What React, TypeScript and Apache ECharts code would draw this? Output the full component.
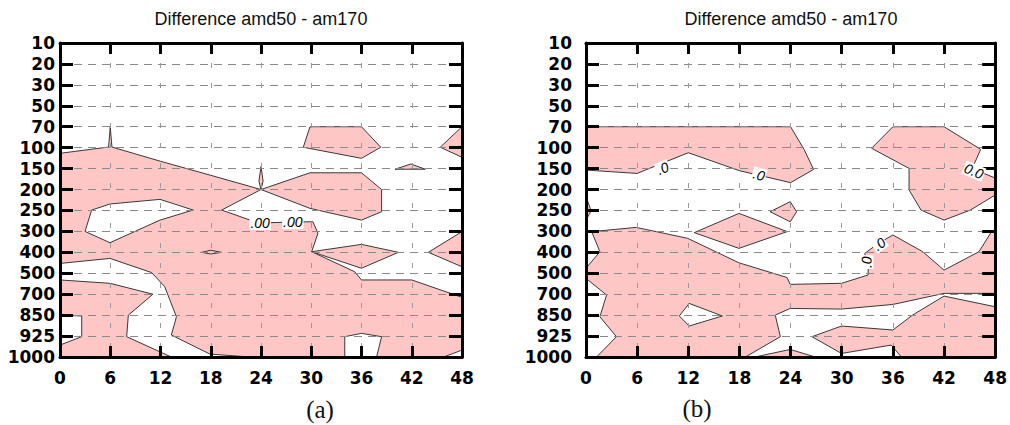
import React, { useEffect, useRef } from "react";
import * as echarts from "echarts";

// Pressure levels (top to bottom), shown on the vertical axis
const LEVELS = ["10", "20", "30", "50", "70", "100", "150", "200", "250", "300", "400", "500", "700", "850", "925", "1000"];
const TITLE = "Difference amd50 - am170";

// Contour regions, points are [forecast hour, level index]
// ---- panel (a)
const A_MAIN = [[0,5.27],[5.8,4.97],[6,4.0],[6.2,4.97],[12,5.65],[18,6.32],[24,7.0],[19.3,7.98],[22.7,8.46],[23.9,8.6],[27.8,8.55],[30.2,8.54],[30.8,9.09],[30.05,9.97],[35.2,10.93],[36,11.32],[42,11.32],[48,12.15],[48,14.67],[45.8,15],[37.8,15],[38.4,14.03],[36,13.87],[34,14.03],[34,15],[22.7,15],[17.9,14.86],[13.3,13.95],[13.9,13.08],[12.5,11.64],[10.95,10.97],[5.97,10.29],[0,10.53]];
const A_LOWLEFT = [[0,11.32],[5.97,11.48],[11.1,12.0],[8.16,13.0],[7.96,14.03],[13.3,15],[0,15],[0,14.43],[2.59,14.03],[2.59,13.04],[0,13.0]];
const A_HOLE = [[3.78,7.98],[5.97,7.69],[11.94,7.47],[15.9,7.98],[11.94,8.46],[5.97,9.54],[2.99,9.0]];
const A_WING = [[24,7.0],[29.85,6.2],[36,6.2],[38.4,7.0],[38.4,8.06],[36,8.46],[29.85,7.9]];
const A_SPIKE24 = [[23.75,6.6],[24,5.9],[24.25,6.6],[24,7.0]];
const A_LENS18 = [[16.9,10.0],[18,9.9],[19.3,10.0],[18,10.08]];
const A_DIAMOND = [[30.05,9.97],[36,9.62],[40.4,10.0],[36,10.76]];
const A_EDGE400 = [[43.98,10.0],[48,9.01],[48,10.69]];
const A_TOP30 = [[29.85,4.0],[36,4.0],[38.3,4.98],[36,5.51],[29.05,4.98]];
const A_EDGE100 = [[48,4.0],[45.4,4.98],[48,5.46]];
const A_SLIVER150 = [[40,6.03],[41.9,5.78],[43.6,6.03]];
const A_LABEL_POS = [[23.9,8.6],[27.8,8.56]];
const A_LABEL_TEXT = [".00", ".00"];
const A_LABEL_ROT = [0, 0];

// ---- panel (b)
const B_TOP = [[0,4],[24,4],[25.6,5.1],[26.7,6.04],[24,6.67],[18,6.1],[12,5.24],[6,6.23],[0,6.07]];
const B_RIGHT = [[33.5,5.03],[36,4.0],[42,4.0],[46.3,5.08],[45.3,6.0],[48,6.45],[48,7.26],[45.1,7.98],[42,8.46],[39.3,7.98],[37.9,7.02],[37.9,5.99]];
const B_EDGE250 = [[0,7.34],[0.6,8.02],[0,8.46]];
const B_DIAMOND18 = [[12.7,9.06],[17.94,8.14],[23.6,9.01],[17.94,9.81]];
const B_SMALL24 = [[21.6,8.06],[23.96,7.58],[24.7,8.06],[23.96,8.54]];
const B_MID = [[0.66,9.01],[5.9,8.81],[11.92,9.33],[17.94,10.5],[23.57,11.2],[23.96,11.53],[29.98,11.48],[33.1,11.08],[33.1,10.76],[32.7,10.05],[34.3,9.57],[36,9.17],[39.5,9.97],[42,10.85],[46.1,9.97],[47.45,9.09],[48,8.93],[48,11.96],[42,11.96],[36,12.49],[29.98,12.71],[23.96,12.68],[22.2,13.0],[22.8,14.03],[18.7,15],[1.24,15],[3.57,14.03],[1.63,13.08],[2.41,12.04],[0,11.24],[0,10.76],[1.63,9.97]];
const B_HOLE850 = [[10.95,13.04],[12.1,12.44],[16.0,13.04],[12.1,13.52]];
const B_LOWRIGHT = [[26.5,14.03],[29.98,13.52],[36,13.71],[38.3,13.0],[42,12.09],[48,12.6],[48,15],[37,15],[35.8,14.43],[29.98,14.83]];
const B_BOTTOM24 = [[19.8,15],[23.96,14.64],[26.9,15]];
const B_LABEL_POS = [[9.0,5.99],[20.3,6.3],[45.5,6.12],[32.9,10.47],[34.4,9.6]];
const B_LABEL_TEXT = [".0", ".0", "0.0", ".0", ".0"];
const B_LABEL_ROT = [0.38, -0.28, -0.39, 1.57, 0.64];

const PINK = "#FFC6C6";
const WHITE = "#FFFFFF";
const LINE = "#383838";

const SHAPES_A = [
  { pts: A_MAIN, fill: PINK },
  { pts: A_LOWLEFT, fill: PINK },
  { pts: A_HOLE, fill: WHITE },
  { pts: A_WING, fill: PINK },
  { pts: A_SPIKE24, fill: PINK },
  { pts: A_LENS18, fill: PINK },
  { pts: A_DIAMOND, fill: PINK },
  { pts: A_EDGE400, fill: PINK },
  { pts: A_TOP30, fill: PINK },
  { pts: A_EDGE100, fill: PINK },
  { pts: A_SLIVER150, fill: PINK },
];
const SHAPES_B = [
  { pts: B_TOP, fill: PINK },
  { pts: B_RIGHT, fill: PINK },
  { pts: B_EDGE250, fill: PINK },
  { pts: B_DIAMOND18, fill: PINK },
  { pts: B_SMALL24, fill: PINK },
  { pts: B_MID, fill: PINK },
  { pts: B_HOLE850, fill: WHITE },
  { pts: B_LOWRIGHT, fill: PINK },
  { pts: B_BOTTOM24, fill: PINK },
];

const TICK_FONT = { color: "#000", fontSize: 17, fontFamily: "DejaVu Sans", fontWeight: "bold" as const };

function shapeSeries(panel: number, shapes: { pts: number[][]; fill: string }[]) {
  return {
    type: "custom",
    xAxisIndex: panel * 2,
    yAxisIndex: panel * 2,
    z: 1,
    clip: true,
    silent: true,
    data: shapes.map((s) => [s.pts[0][0], s.pts[0][1]]),
    encode: { x: 0, y: 1 },
    renderItem: (params: any, api: any) => {
      const s = shapes[params.dataIndex];
      return {
        type: "polygon",
        shape: { points: s.pts.map((p) => api.coord(p)) },
        style: { fill: s.fill, stroke: LINE, lineWidth: 1 },
      };
    },
  };
}

function labelSeries(panel: number, pos: number[][], texts: string[], rots: number[]) {
  return {
    type: "custom",
    xAxisIndex: panel * 2,
    yAxisIndex: panel * 2,
    z: 10,
    silent: true,
    data: pos.map((p) => [p[0], p[1]]),
    encode: { x: 0, y: 1 },
    renderItem: (params: any, api: any) => {
      const i = params.dataIndex;
      const c = api.coord(pos[i]);
      return {
        type: "text",
        x: c[0],
        y: c[1],
        rotation: rots[i],
        style: {
          text: texts[i],
          font: 'italic 14px "Liberation Sans"',
          fill: "#000",
          align: "center",
          verticalAlign: "middle",
          backgroundColor: "#fff",
          padding: [0, 1],
        },
      };
    },
  };
}

function xAxes(grid: number) {
  const line = { show: true, onZero: false, lineStyle: { color: "#000", width: 3 } };
  const tick = { show: true, inside: true, length: 11, lineStyle: { color: "#000", width: 3 } };
  return [
    {
      gridIndex: grid, type: "value", min: 0, max: 48, interval: 6, position: "bottom", z: 3,
      axisLine: line, axisTick: tick,
      axisLabel: { ...TICK_FONT, margin: 12, showMinLabel: true, showMaxLabel: true },
      splitLine: { show: true, lineStyle: { color: "#9a9a9a", width: 1, type: [5, 15] } },
    },
    {
      gridIndex: grid, type: "value", min: 0, max: 48, interval: 6, position: "top", z: 3,
      axisLine: line, axisTick: tick, axisLabel: { show: false }, splitLine: { show: false },
    },
  ];
}

function yAxes(grid: number, margin: number) {
  const line = { show: true, onZero: false, lineStyle: { color: "#000", width: 3 } };
  const tick = { show: true, inside: true, length: 13, lineStyle: { color: "#000", width: 3 } };
  return [
    {
      gridIndex: grid, type: "value", min: 0, max: 15, interval: 1, inverse: true, position: "left", z: 3,
      axisLine: line, axisTick: tick,
      axisLabel: { ...TICK_FONT, margin, showMinLabel: true, showMaxLabel: true, formatter: (v: number) => LEVELS[Math.round(v)] ?? "" },
      splitLine: { show: true, lineStyle: { color: "#8a8a8a", width: 1, type: [8, 6] } },
    },
    {
      gridIndex: grid, type: "value", min: 0, max: 15, interval: 1, inverse: true, position: "right", z: 3,
      axisLine: line, axisTick: tick, axisLabel: { show: false }, splitLine: { show: false },
    },
  ];
}

function txt(x: number, y: number, text: string, font: string) {
  return {
    type: "text", x, y, z: 20,
    style: { text, font, fill: "#111", align: "center", verticalAlign: "middle", textAlign: "center", textVerticalAlign: "middle" },
  };
}

export default function App() {
  const ref = useRef<HTMLDivElement>(null);
  useEffect(() => {
    if (!ref.current) return;
    const chart = echarts.init(ref.current, null, { renderer: "svg" });
    chart.setOption({
      animation: false,
      backgroundColor: "#fff",
      grid: [
        { left: 60, top: 43, width: 402, height: 314 },
        { left: 586, top: 43, width: 412, height: 314 },
      ],
      xAxis: [...xAxes(0), ...xAxes(1)],
      yAxis: [...yAxes(0, 5), ...yAxes(1, 14)],
      series: [
        shapeSeries(0, SHAPES_A),
        shapeSeries(1, SHAPES_B),
        labelSeries(0, A_LABEL_POS, A_LABEL_TEXT, A_LABEL_ROT),
        labelSeries(1, B_LABEL_POS, B_LABEL_TEXT, B_LABEL_ROT),
      ],
      graphic: [
        txt(261, 19, TITLE, '18px "Liberation Sans"'),
        txt(791, 19, TITLE, '18px "Liberation Sans"'),
        txt(320, 409, "(a)", '25px "Liberation Serif"'),
        txt(697, 408, "(b)", '25px "Liberation Serif"'),
      ],
    });
    return () => chart.dispose();
  }, []);
  return <div ref={ref} style={{ position: "absolute", left: 0, top: 0, width: 1010, height: 425 }} />;
}
